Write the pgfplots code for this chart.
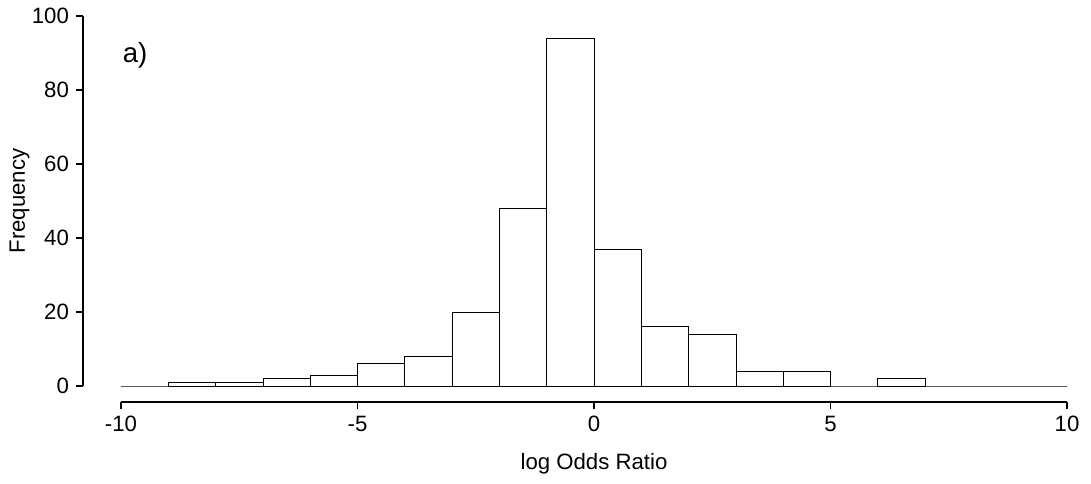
\documentclass[border=0pt]{standalone}
\usepackage{pgfplots}
\pgfplotsset{compat=1.18}
\usepackage{fontspec}
\setmainfont{Liberation Sans}
\begin{document}
\begin{tikzpicture}
\begin{axis}[
  scale only axis,
  width=473pt, height=185pt,
  xmin=-10, xmax=10, ymin=0, ymax=100,
  axis lines*=left,
  clip=false,
  font=\fontsize{11.1}{13}\selectfont,
  /pgf/number format/assume math mode=true,
  xtick={-10,-5,0,5,10},
  ytick={0,20,40,60,80,100},
  tick align=outside,
  major tick length=3.5pt,
  axis line style={line width=0.6pt},
  every tick/.style={black, line width=0.6pt},
  x axis line style={yshift=-8pt},
  xtick style={yshift=-8pt},
  xticklabel style={yshift=-8pt},
  y axis line style={xshift=-19pt},
  ytick style={xshift=-19pt},
  yticklabel style={xshift=-19pt},
  xlabel={log Odds Ratio},
  ylabel={Frequency},
  xlabel style={at={(axis description cs:0.5,-0.227)}, anchor=base},
  ylabel style={at={(axis description cs:-0.1015,0.5)}, anchor=base, rotate=0},
]
\addplot[ybar interval, draw=black, fill=white, line width=0.4pt] coordinates {
(-10,0)(-9,1)(-8,1)(-7,2)(-6,3)(-5,6)(-4,8)(-3,20)(-2,48)(-1,94)
(0,37)(1,16)(2,14)(3,4)(4,4)(5,0)(6,2)(7,0)(8,0)(9,0)(10,0)};
\node[anchor=base west, inner sep=0pt, font=\fontsize{13.8}{16}\selectfont] at (axis cs:-9.97,87.3) {a)};
\coordinate (dsw) at (rel axis cs:0,0);
\coordinate (dne) at (rel axis cs:1,1);
\end{axis}
\pgfresetboundingbox
\path ([xshift=-60.5pt,yshift=-48.5pt]dsw) rectangle ([xshift=12pt,yshift=8pt]dne);
\end{tikzpicture}
\end{document}
